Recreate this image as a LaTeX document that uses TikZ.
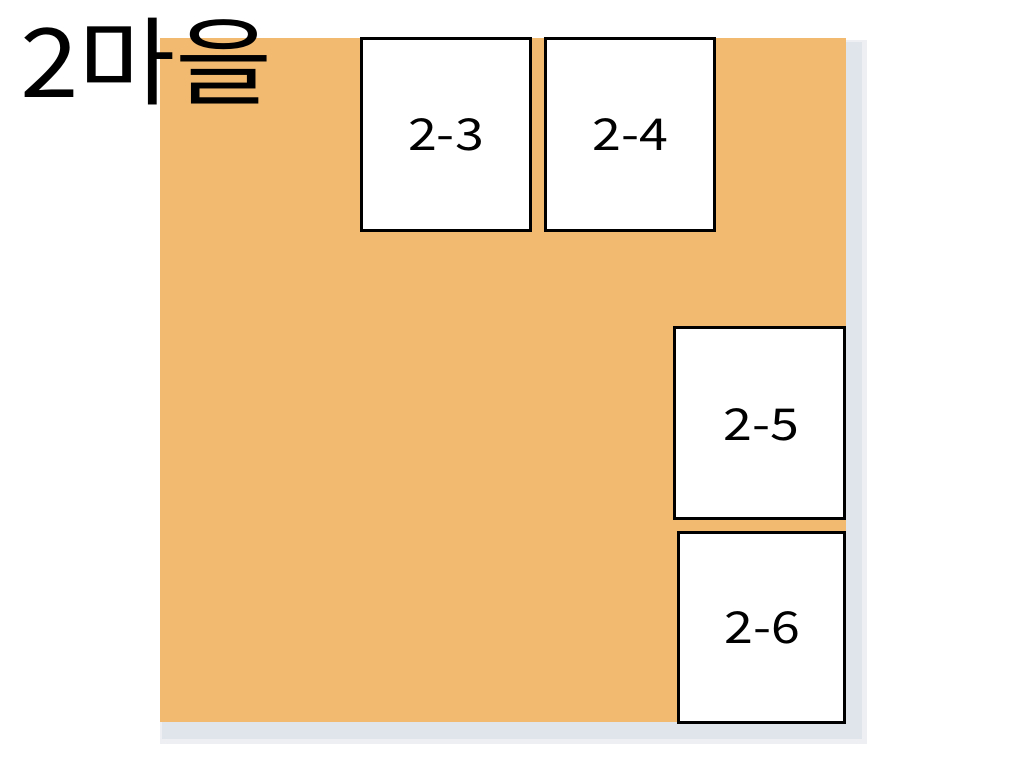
\documentclass[tikz,border=0pt]{standalone}
\usepackage{fontspec}
\newfontfamily\kr{Noto Sans CJK KR}
\definecolor{village}{RGB}{242,185,112}
\definecolor{shadowin}{RGB}{224,228,235}
\definecolor{shadowout}{RGB}{237,239,243}
\begin{document}
\begin{tikzpicture}[x=1pt,y=-1pt,
  lot/.style={draw=black,line width=3pt,fill=white},
  lotlabel/.style={font=\kr\fontsize{44}{44}\selectfont,text=black,inner sep=0pt,xscale=1.18}]
\fill[white] (0,0) rectangle (1024,768);
\useasboundingbox (0,0) rectangle (1024,768);
% shadow (soft)
\fill[shadowout] (160,40) rectangle (867,744);
\fill[shadowin] (162,42) rectangle (862,739);
% village area
\fill[village] (160,38) rectangle (846,722);
% lots
\draw[lot] (361,39) rectangle (530,230);
\node[lotlabel] (l23) at (446,135) {2-3};
\draw[lot] (545,39) rectangle (714,230);
\node[lotlabel] (l24) at (630,135) {2-4};
\draw[lot] (674,327) rectangle (844,518);
\node[lotlabel] (l25) at (761,425) {2-5};
\draw[lot] (678,532) rectangle (844,722);
\node[lotlabel] (l26) at (762,628) {2-6};
% title
\node[anchor=base west,inner sep=0pt,xscale=1.1,font=\kr\fontsize{96}{96}\selectfont] (title) at (20,97) {2마을};
\end{tikzpicture}
\end{document}
